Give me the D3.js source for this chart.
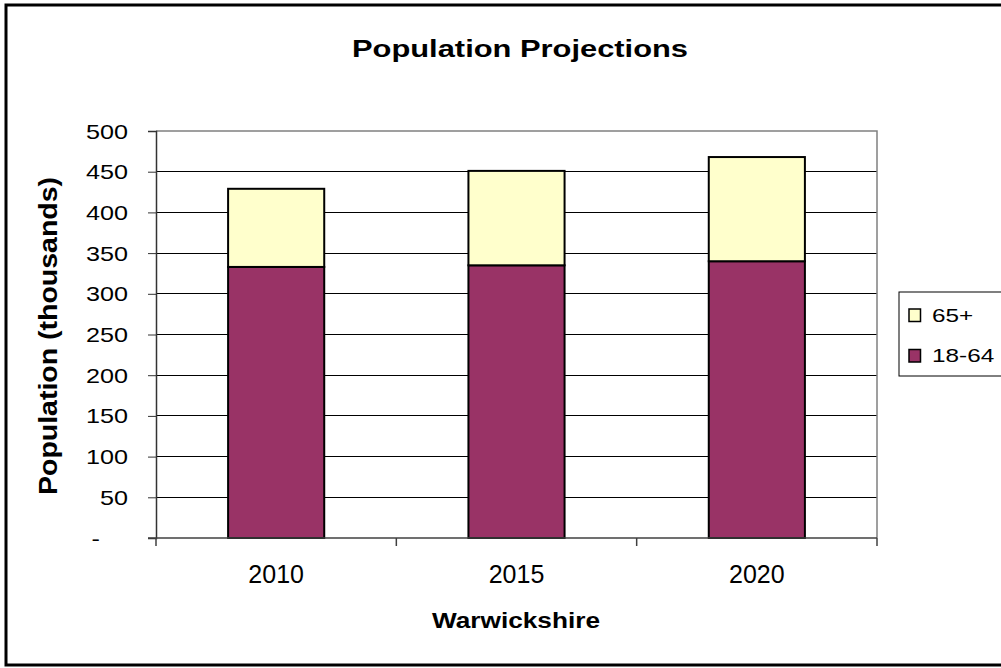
<!DOCTYPE html>
<html>
<head>
<meta charset="utf-8">
<script src="https://cdn.jsdelivr.net/npm/d3@7"></script>
<style>
  html, body { margin: 0; padding: 0; background: #fff; }
  svg { display: block; font-family: Arial, "Liberation Sans", sans-serif; }
  .pre { white-space: pre; }
</style>
</head>
<body>
<div id="chart"></div>
<script>
(function() {

  var width = 1001,
      height = 668;

  // data (thousands)
  var years = ["2010", "2015", "2020"];
  var working = [333, 335, 340];   // 18-64
  var older = [96, 116, 128];      // 65+
  var seriesNames = ["18-64", "65+"];
  var seriesColors = ["#993366", "#FFFFCC"];
  var yTicks = [0, 50, 100, 150, 200, 250, 300, 350, 400, 450, 500];

  var plot = {left: 156, right: 877, top: 131, bottom: 538};

  var svg = d3.select("#chart").append("svg")
      .attr("width", width)
      .attr("height", height);

  // outer chart frame (runs off the right edge like the original)
  svg.append("rect")
      .attr("x", 6).attr("y", 5)
      .attr("width", 1010).attr("height", 660)
      .attr("fill", "#fff")
      .attr("stroke", "#000")
      .attr("stroke-width", 3);

  var x = d3.scaleBand()
      .domain(years)
      .range([plot.left, plot.right])
      .paddingInner(0.6)
      .paddingOuter(0.3);

  var y = d3.scaleLinear()
      .domain([0, 500])
      .range([plot.bottom, plot.top]);

  // gridlines
  svg.append("g")
      .selectAll("line")
      .data(yTicks.filter(function(d) { return d > 0 && d < 500; }))
      .enter().append("line")
      .attr("x1", plot.left).attr("x2", plot.right)
      .attr("y1", function(d) { return y(d); })
      .attr("y2", function(d) { return y(d); })
      .attr("stroke", "#000")
      .attr("stroke-width", 1)
      .attr("shape-rendering", "crispEdges");

  // plot area border (top + right, grey)
  svg.append("path")
      .attr("d", "M" + plot.left + "," + y(500) + "H" + plot.right + "V" + plot.bottom)
      .attr("fill", "none")
      .attr("stroke", "#808080")
      .attr("stroke-width", 1.5);

  // stacked bars
  var rows = years.map(function(yr, i) {
    return {year: yr, "18-64": working[i], "65+": older[i]};
  });
  var stack = d3.stack().keys(seriesNames)(rows);

  svg.append("g")
      .selectAll("g")
      .data(stack)
      .enter().append("g")
      .attr("fill", function(d, i) { return seriesColors[i]; })
    .selectAll("rect")
      .data(function(d) { return d; })
      .enter().append("rect")
      .attr("x", function(d) { return x(d.data.year); })
      .attr("width", x.bandwidth())
      .attr("y", function(d) { return y(d[1]); })
      .attr("height", function(d) { return y(d[0]) - y(d[1]); })
      .attr("stroke", "#000")
      .attr("stroke-width", 2);

  // y axis (ticks only, labels drawn below so they can be widened like Excel's)
  var gy = svg.append("g")
      .attr("transform", "translate(" + plot.left + ",0)")
      .call(d3.axisLeft(y).tickValues(yTicks).tickSize(8).tickFormat(""));
  gy.select(".domain").attr("stroke", "#333").attr("stroke-width", 1.5);
  gy.selectAll(".tick line").attr("stroke", "#333");

  svg.append("g")
      .selectAll("text")
      .data(yTicks)
      .enter().append("text")
      .attr("class", "pre")
      .attr("transform", function(d) {
        return "translate(128," + (y(d) + 7.5) + ") scale(1.26,1)";
      })
      .attr("text-anchor", "end")
      .attr("font-size", 20)
      .text(function(d) { return d === 0 ? "-    " : d; });

  // x axis baseline + boundary ticks
  svg.append("line")
      .attr("x1", plot.left - 8).attr("x2", plot.right)
      .attr("y1", plot.bottom).attr("y2", plot.bottom)
      .attr("stroke", "#404040")
      .attr("stroke-width", 1.5);

  var step = x.step();
  var bounds = d3.range(years.length + 1).map(function(i) { return plot.left + i * step; });
  svg.append("g")
      .selectAll("line")
      .data(bounds)
      .enter().append("line")
      .attr("x1", function(d) { return d; })
      .attr("x2", function(d) { return d; })
      .attr("y1", plot.bottom)
      .attr("y2", plot.bottom + 8)
      .attr("stroke", "#404040")
      .attr("stroke-width", 1.5);

  svg.append("g")
      .selectAll("text")
      .data(years)
      .enter().append("text")
      .attr("x", function(d) { return x(d) + x.bandwidth() / 2; })
      .attr("y", 583)
      .attr("text-anchor", "middle")
      .attr("font-size", 25)
      .text(function(d) { return d; });

  // titles
  svg.append("text")
      .attr("x", 520).attr("y", 57)
      .attr("text-anchor", "middle")
      .attr("font-size", 23)
      .attr("font-weight", "bold")
      .attr("textLength", 336)
      .attr("lengthAdjust", "spacingAndGlyphs")
      .text("Population Projections");

  svg.append("text")
      .attr("x", 516).attr("y", 628)
      .attr("text-anchor", "middle")
      .attr("font-size", 22)
      .attr("font-weight", "bold")
      .attr("textLength", 168)
      .attr("lengthAdjust", "spacingAndGlyphs")
      .text("Warwickshire");

  svg.append("text")
      .attr("transform", "translate(57,336) rotate(-90)")
      .attr("text-anchor", "middle")
      .attr("font-size", 25)
      .attr("font-weight", "bold")
      .attr("textLength", 318)
      .attr("lengthAdjust", "spacingAndGlyphs")
      .text("Population (thousands)");

  // legend
  var legend = svg.append("g");
  legend.append("rect")
      .attr("x", 899).attr("y", 292)
      .attr("width", 120).attr("height", 84)
      .attr("fill", "#fff")
      .attr("stroke", "#000")
      .attr("stroke-width", 1);

  var legendItems = [
    {name: seriesNames[1], color: seriesColors[1]},
    {name: seriesNames[0], color: seriesColors[0]}
  ];
  var li = legend.selectAll("g.item")
      .data(legendItems)
      .enter().append("g")
      .attr("class", "item")
      .attr("transform", function(d, i) { return "translate(0," + (i * 40.5) + ")"; });
  li.append("rect")
      .attr("x", 909).attr("y", 309)
      .attr("width", 11.5).attr("height", 12.5)
      .attr("fill", function(d) { return d.color; })
      .attr("stroke", "#000")
      .attr("stroke-width", 1.5);
  li.append("text")
      .attr("transform", "translate(932,321.5) scale(1.28,1)")
      .attr("font-size", 19)
      .text(function(d) { return d.name; });

})();
</script>
</body>
</html>
